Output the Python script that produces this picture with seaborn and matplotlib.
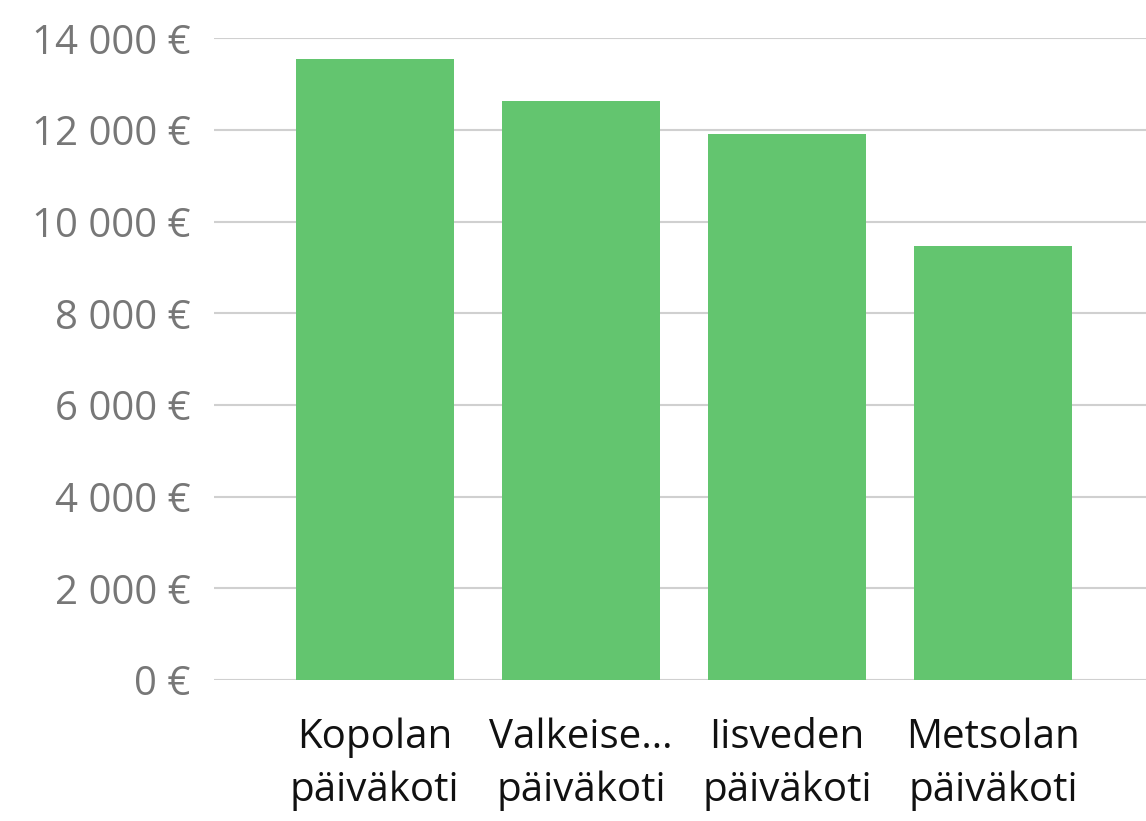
import pandas as pd
import matplotlib.pyplot as plt
import seaborn as sns

# data
categories = ["Kopolan\npäiväkoti", "Valkeise…\npäiväkoti", "Iisveden\npäiväkoti", "Metsolan\npäiväkoti"]
values = [13540, 12630, 11910, 9470]
y_ticks = [0, 2000, 4000, 6000, 8000, 10000, 12000, 14000]

sns.set_style("white")
plt.rcParams['font.family'] = ['Open Sans', 'DejaVu Sans']

df = pd.DataFrame({"name": categories, "value": values})

fig = plt.figure(figsize=(11.46, 8.21), dpi=100)
ax = fig.add_axes([0.1867, 0.1717, 0.8133, 0.7817])

sns.barplot(data=df, x="name", y="value", color="#63c56f", saturation=1,
            width=0.767, linewidth=0, ax=ax, zorder=3)

ax.set_ylim(0, 14000)
ax.set_xlim(-0.78, 3.74)
ax.set_yticks(y_ticks)
ax.set_yticklabels([f"{v:,}".replace(",", " ") + " €" for v in y_ticks])
ax.yaxis.grid(True, color="#d0d0d0", linewidth=1.5, zorder=0)
ax.set_axisbelow(True)

ax.set_xlabel("")
ax.set_ylabel("")
for s in ax.spines.values():
    s.set_visible(False)

ax.tick_params(axis="y", length=0, pad=17, labelsize=29, labelcolor="#777777")
ax.tick_params(axis="x", length=0, pad=27, labelsize=29, labelcolor="#111111")
for lab in ax.get_xticklabels():
    lab.set_linespacing(1.4)

fig.savefig("out.png", dpi=100)
